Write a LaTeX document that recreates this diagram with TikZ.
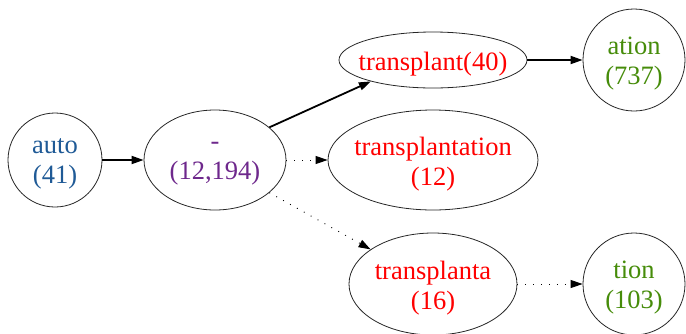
\documentclass[tikz,border=0pt]{standalone}
\usepackage{fontspec}
\setmainfont{Liberation Serif}
\usetikzlibrary{shapes.geometric,arrows.meta}
\definecolor{cblue}{RGB}{31,90,150}
\definecolor{cpurple}{RGB}{110,40,140}
\definecolor{cred}{RGB}{255,0,0}
\definecolor{cgreen}{RGB}{70,140,10}
\tikzset{
  state/.style={draw=black!85, line width=0.8pt, inner sep=0pt},
  oval/.style={state, ellipse},
  round/.style={state, circle},
  every label/.style={align=center, inner sep=0pt, yshift=-4pt,
    font=\fontsize{26.5}{30}\selectfont},
  link/.style={line width=1.8pt, -{Triangle[length=12pt,width=8pt]}},
  weak/.style={line width=0.9pt, dash pattern=on 0.9pt off 7pt,
    -{Triangle[length=12pt,width=8pt]}},
}
\begin{document}
\begin{tikzpicture}[x=1pt,y=-1pt]
\useasboundingbox (0,0) rectangle (686,333);
\node[round, minimum size=94pt, label={[cblue]center:auto\\(41)}] (auto) at (55,160) {};
\node[oval, minimum width=142pt, minimum height=100pt, label={[cpurple]center:-\\(12,194)}] (dash) at (215,160) {};
\node[oval, minimum width=188pt, minimum height=56pt, label={[cred]center:transplant(40)}] (tp) at (433,60) {};
\node[round, minimum size=102pt, label={[cgreen]center:ation\\(737)}] (ation) at (634,60) {};
\node[oval, minimum width=210pt, minimum height=100pt, label={[cred]center:transplantation\\(12)}] (tpn) at (433,160) {};
\node[oval, minimum width=168pt, minimum height=102pt, label={[cred]center:transplanta\\(16)}] (tpa) at (433,284) {};
\node[round, minimum size=102pt, label={[cgreen]center:tion\\(103)}] (tion) at (634,284) {};
\draw[link] (auto) -- (dash);
\draw[link] (dash.31) -- (tp.199);
\draw[link] (tp) -- (ation);
\draw[weak] (dash) -- (tpn);
\draw[weak] (dash.329) -- (tpa.151);
\draw[weak] (tpa) -- (tion);
\end{tikzpicture}
\end{document}
